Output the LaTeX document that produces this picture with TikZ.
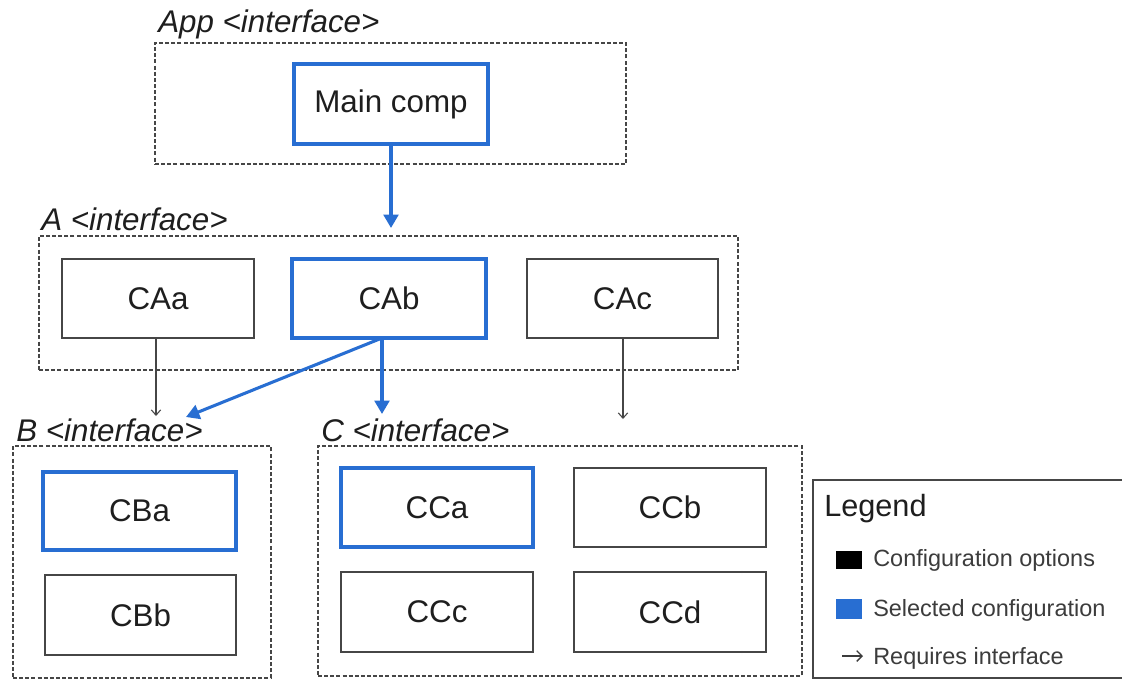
\documentclass[tikz,border=0pt]{standalone}
\usepackage{fontspec}
\setmainfont{Liberation Sans}
\usetikzlibrary{arrows.meta,fit}
\definecolor{selblue}{RGB}{40,110,210}
\definecolor{txt}{RGB}{30,30,30}
\definecolor{legtxt}{RGB}{60,60,60}
\definecolor{boxgray}{RGB}{70,70,70}
\begin{document}
\begin{tikzpicture}[x=0.75pt,y=-0.75pt,
  big/.style={font=\fontsize{23.5}{28}\selectfont, text=txt},
  ifacelabel/.style={font=\fontsize{23.5}{28}\selectfont\itshape, text=txt, anchor=west, inner sep=0},
  container/.style={draw=boxgray, line width=0.9pt, dash pattern=on 3pt off 1.6pt, inner sep=0},
  opt/.style={draw=boxgray, line width=1pt, inner sep=0},
  sel/.style={draw=selblue, line width=2.4pt, inner sep=0},
  selarrow/.style={draw=selblue, line width=2.3pt, -{Triangle[length=10pt,width=11pt]}},
  reqarrow/.style={draw=boxgray, line width=0.8pt, -{Straight Barb[length=4pt,width=7pt]}},
  legtext/.style={font=\fontsize{17.6}{21}\selectfont, text=legtxt, anchor=west, inner sep=0}
]
\clip (0,0) rectangle (1122,679);
\useasboundingbox (0,0) rectangle (1122,679);
\fill[white] (0,0) rectangle (1122,679);

% App
\node[container, fit={(155,43) (626,164)}] (appbox) {};
\node[ifacelabel] (applab) at (158,24) {App <interface>};
\node[sel, fit={(294,64) (488,144)}, label={[big]center:Main comp}] (main) {};

% A
\node[container, fit={(39,236) (738,370)}] (abox) {};
\node[ifacelabel] (alab) at (41,219) {A <interface>};
\node[opt, fit={(62,259) (254,338)}, label={[big]center:CAa}] (caa) {};
\node[sel, fit={(292,259) (486,338)}, label={[big]center:CAb}] (cab) {};
\node[opt, fit={(527,259) (718,338)}, label={[big]center:CAc}] (cac) {};

% B
\node[container, fit={(13,446) (271,678)}] (bbox) {};
\node[ifacelabel] (blab) at (16,430) {B <interface>};
\node[sel, fit={(43,472) (236,550)}, label={[big]center:CBa}] (cba) {};
\node[opt, fit={(45,575) (236,655)}, label={[big]center:CBb}] (cbb) {};

% C
\node[container, fit={(318,446) (802,676)}] (cbox) {};
\node[ifacelabel] (clab) at (321,430) {C <interface>};
\node[sel, fit={(341,468) (533,547)}, label={[big]center:CCa}] (cca) {};
\node[opt, fit={(574,468) (766,547)}, label={[big]center:CCb}] (ccb) {};
\node[opt, fit={(341,572) (533,652)}, label={[big]center:CCc}] (ccc) {};
\node[opt, fit={(574,572) (766,652)}, label={[big]center:CCd}] (ccd) {};

% arrow end points
\coordinate (tA) at (391,228);
\coordinate (cabout) at (382,338);
\coordinate (tB) at (186,417);
\coordinate (tC) at (382,414);
\coordinate (caaout) at (156,338);
\coordinate (tBa) at (156,416);
\coordinate (cacout) at (623,338);
\coordinate (tCc) at (623,419);

\draw[selarrow] (main.south) -- (tA);
\draw[reqarrow] (caaout) -- (tBa);
\draw[selarrow] (cabout) -- (tB);
\draw[selarrow] (cabout) -- (tC);
\draw[reqarrow] (cacout) -- (tCc);

% Legend
\node[draw=boxgray, line width=1pt, fit={(813,480) (1140,678)}, inner sep=0] (legend) {};
\node[font=\fontsize{23}{28}\selectfont, text=txt, anchor=west, inner sep=0] (legtitle) at (824,509) {Legend};
\node[fill=black, minimum width=19.5pt, minimum height=14pt, inner sep=0] (sqk) at (849,560) {};
\node[legtext] (l1) at (873,560) {Configuration options};
\node[fill=selblue, minimum width=19.5pt, minimum height=15pt, inner sep=0] (sqb) at (849,608.5) {};
\node[legtext] (l2) at (873,610) {Selected configuration};
\coordinate (la1) at (842,656);
\coordinate (la2) at (863,656);
\draw[draw=legtxt, line width=1pt, -{Straight Barb[length=4pt,width=8pt]}] (la1) -- (la2);
\node[legtext] (l3) at (873,658) {Requires interface};
\end{tikzpicture}
\end{document}
